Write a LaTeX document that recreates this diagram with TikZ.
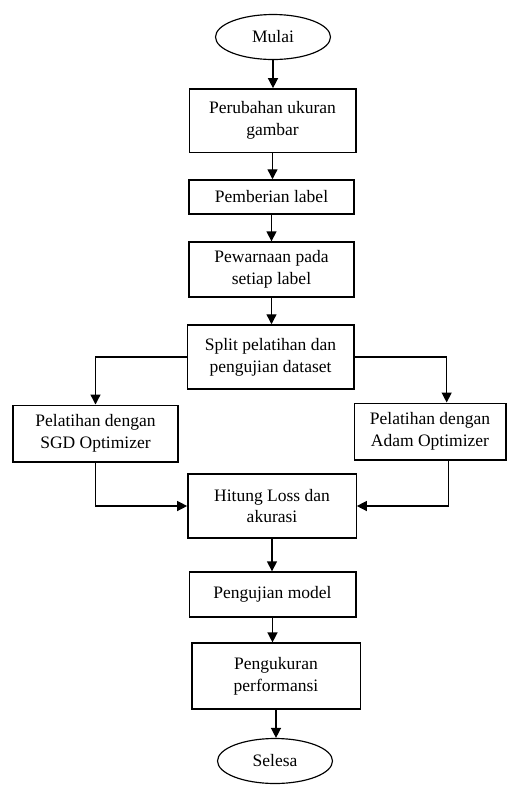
\documentclass[tikz,border=0pt]{standalone}
\usepackage{fontspec}
\setmainfont{Liberation Serif}
\usetikzlibrary{arrows.meta,shapes.geometric}
\begin{document}
\begin{tikzpicture}[x=0.6pt,y=-0.6pt,
  every node/.style={font=\fontsize{10.5pt}{13pt}\selectfont,align=center,inner sep=0pt},
  procbox/.style={draw,line width=0.8pt,rectangle},
  termnode/.style={draw,line width=0.7pt,ellipse,minimum width=69pt,minimum height=27pt},
  arr/.style={line width=0.8pt,-{Triangle[width=6pt,length=6pt]}}]
  \useasboundingbox (0,0) rectangle (507,785);
  % main column
  \node[termnode] (mulai) at (273,37) {Mulai};
  \node[procbox,minimum width=100pt,minimum height=38pt] (resize) at (272.5,120.5) {Perubahan ukuran\\gambar};
  \node[procbox,minimum width=99pt,minimum height=20.5pt] (label) at (271.5,197) {Pemberian label};
  \node[procbox,minimum width=99pt,minimum height=33pt] (warna) at (271.5,269.5) {Pewarnaan pada\\setiap label};
  \node[procbox,minimum width=100pt,minimum height=38.5pt] (split) at (270.5,357) {Split pelatihan dan\\pengujian dataset};
  \node[procbox,minimum width=99pt,minimum height=34pt] (sgd) at (95.5,433.5) {Pelatihan dengan\\SGD Optimizer};
  \node[procbox,minimum width=91pt,minimum height=34pt] (adam) at (430,431.5) {Pelatihan dengan\\Adam Optimizer};
  \node[procbox,minimum width=101pt,minimum height=38.5pt] (hitung) at (272,506) {Hitung Loss dan\\akurasi};
  \node[procbox,minimum width=100pt,minimum height=27pt] (uji) at (272.5,594.5) {Pengujian model};
  \node[procbox,minimum width=101pt,minimum height=39.5pt] (ukur) at (276,676) {Pengukuran\\performansi};
  \node[termnode] (selesa) at (275,761) {Selesa};
  % connectors
  \draw[arr] (mulai.south) -- (mulai.south |- resize.north);
  \draw[arr] (resize.south) -- (resize.south |- label.north);
  \draw[arr] (label.south) -- (label.south |- warna.north);
  \draw[arr] (warna.south) -- (warna.south |- split.north);
  \draw[arr] (split.west) -| (sgd.north);
  \draw[arr] (split.east) -| ([xshift=10pt]adam.north);
  \draw[arr] (sgd.south) |- (hitung.west);
  \draw[arr] ([xshift=11pt]adam.south) |- (hitung.east);
  \draw[arr] (hitung.south) -- (hitung.south |- uji.north);
  \draw[arr] (uji.south) -- (uji.south |- ukur.north);
  \draw[arr] (ukur.south) -- (ukur.south |- selesa.north);
\end{tikzpicture}
\end{document}
